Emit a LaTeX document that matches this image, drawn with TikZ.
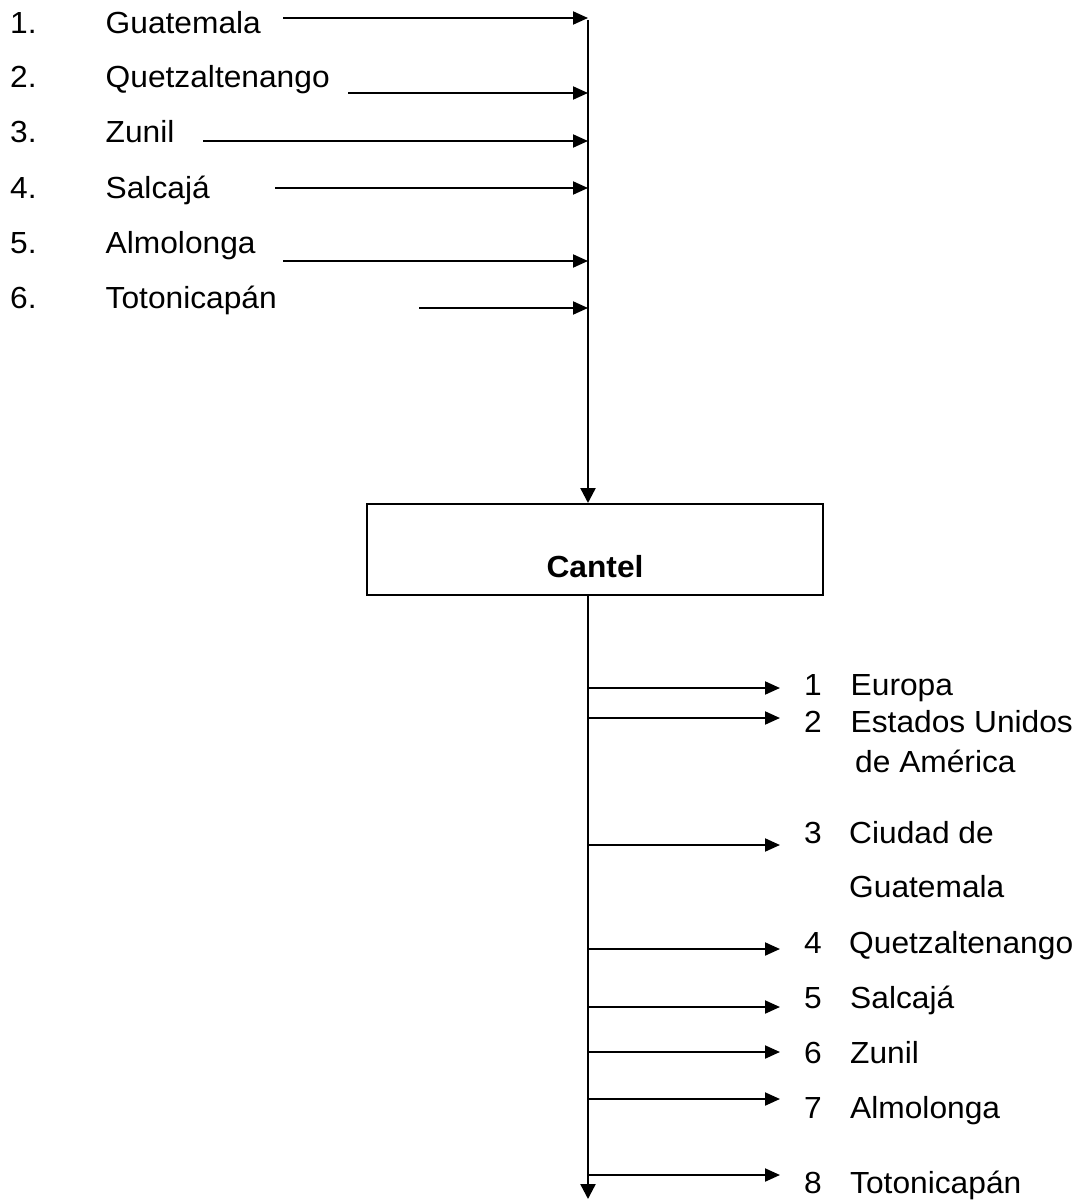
\documentclass[tikz,border=0pt]{standalone}
\usepackage{fontspec}
\setmainfont{Liberation Sans}[FakeStretch=1.04]
\usetikzlibrary{arrows.meta}
\tikzset{
  txt/.style={anchor=base west, inner sep=0pt, font=\fontsize{30.5}{36}\selectfont},
  boxstyle/.style={draw, line width=2pt, minimum width=456pt, minimum height=91pt, inner sep=0pt},
  feed/.style={line width=2pt, -{Triangle[length=15pt,width=13pt]}},
  trunk/.style={line width=2.4pt, -{Triangle[length=15pt,width=15pt]}}
}
\begin{document}
\begin{tikzpicture}[x=1pt,y=-1pt]
\useasboundingbox (0,0) rectangle (1086,1201);
% left list
\foreach \i/\name/\y in {1/Guatemala/34, 2/Quetzaltenango/88, 3/Zunil/143, 4/Salcajá/198, 5/Almolonga/253, 6/Totonicapán/308}{
  \node[txt] (ln\i) at (10,\y) {\i.};
  \node[txt] (lt\i) at (105.5,\y) {\name};
}
% feeder arrows
\foreach \i/\xs/\y in {1/283/18, 2/348/93, 3/203/141, 4/275/188, 5/283/261, 6/419/308}{
  \coordinate (fs\i) at (\xs,\y);
  \coordinate (fe\i) at (588,\y);
  \draw[feed] (fs\i) -- (fe\i);
}
% box
\node[boxstyle] (cantel) at (595,549.5) {};
\node[anchor=base, inner sep=0pt, font=\fontsize{30.5}{36}\selectfont\bfseries] (cantellbl) at (595,577) {Cantel};
% trunk
\coordinate (ttop) at (588,20);
\draw[trunk] (ttop) -- (ttop |- cantel.north);
\coordinate (bend) at (588,1199);
\draw[trunk] (bend |- cantel.south) -- (bend);
% right list
\foreach \i/\y/\ya in {1/688/695, 2/718/732, 3/845/843, 4/949/953, 5/1007/1008, 6/1052/1063, 7/1099/1118, 8/1175/1193}{
  \coordinate (bs\i) at (588,\y);
  \coordinate (be\i) at (780,\y);
  \draw[feed] (bs\i) -- (be\i);
  \node[txt] (rn\i) at (804,\ya) {\i};
}
\node[txt] (rt1) at (850.5,695) {Europa};
\node[txt] (rt2) at (850.5,732) {Estados Unidos};
\node[txt] (rt2b) at (855,772) {de América};
\node[txt] (rt3) at (849,843) {Ciudad de};
\node[txt] (rt3b) at (849,897) {Guatemala};
\node[txt] (rt4) at (849,953) {Quetzaltenango};
\node[txt] (rt5) at (850,1008) {Salcajá};
\node[txt] (rt6) at (850,1063) {Zunil};
\node[txt] (rt7) at (850,1118) {Almolonga};
\node[txt] (rt8) at (850,1193) {Totonicapán};
\end{tikzpicture}
\end{document}
